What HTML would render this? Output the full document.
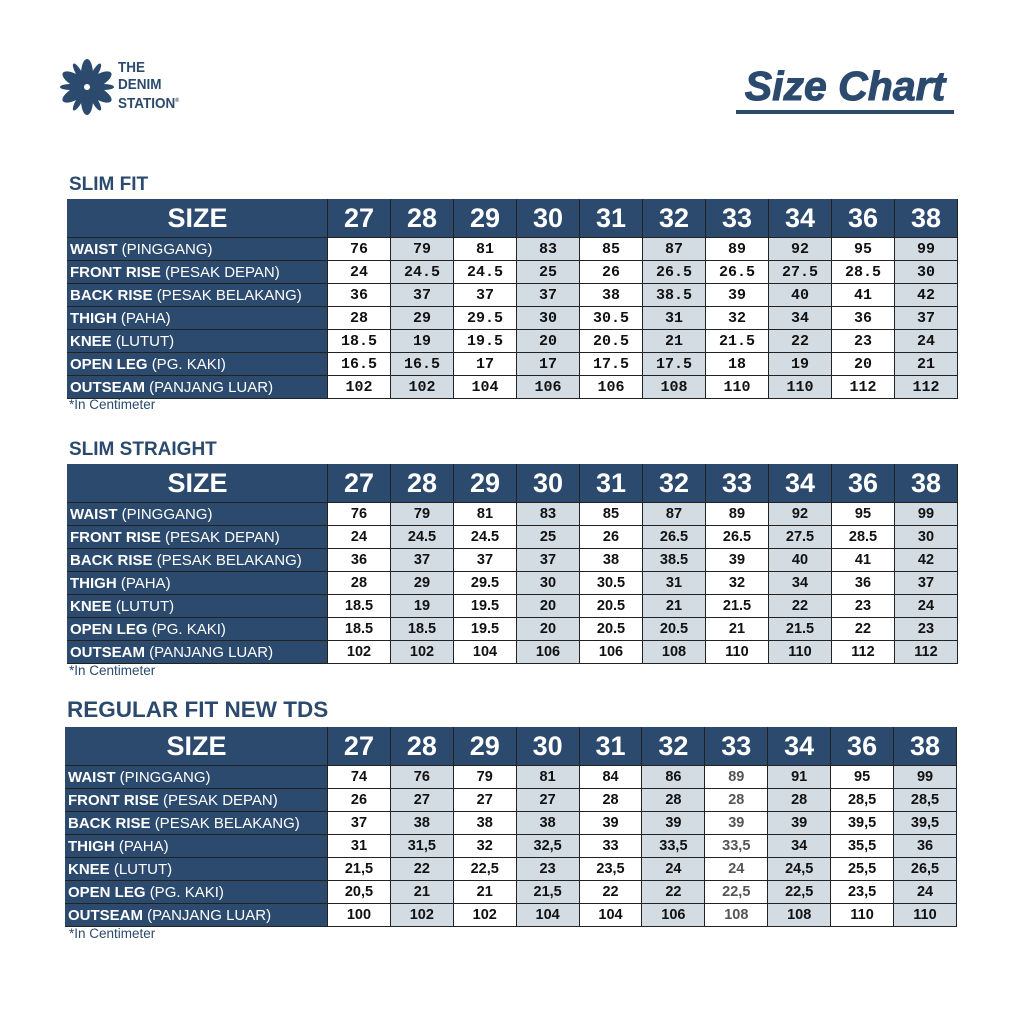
<!DOCTYPE html>
<html><head><meta charset="utf-8"><style>
body{margin:0;width:1024px;height:1024px;background:#fff;position:relative;font-family:"Liberation Sans",Arial,sans-serif;overflow:hidden}
.abs{position:absolute}
table{position:absolute;border-collapse:collapse;table-layout:fixed}
td{border:1px solid #222;padding:0;height:22px;text-align:center;font-weight:bold;font-size:14.5px;color:#111;overflow:hidden;white-space:nowrap}
td:nth-child(odd){background:#d3dbe3}
td:first-child{background:#2b4a6e;color:#fff;text-align:left;padding-left:2px;font-size:15px;border-left-color:#2b4a6e}
td:first-child span{font-weight:normal}
tr.h td{background:#2b4a6e;color:#fff;height:37px;font-size:27px;text-align:center;border-top-color:#2b4a6e}
tr.h td:first-child{font-size:27px;padding-left:0}
.mono td{font-family:"Liberation Mono",monospace;font-size:15px}
.mono td:first-child,.mono tr.h td{font-family:"Liberation Sans",Arial,sans-serif}
.mono tr.h td{font-size:27px}
.mono td:first-child{font-size:15px}
.t3 td:nth-child(8){color:#555}
.t3 tr.h td:nth-child(8){color:#fff}
.title{color:#2b4a6e;font-weight:bold;font-size:19px}
.note{color:#2b4a6e;font-size:13.5px}
</style></head><body>
<svg class="abs" style="left:59px;top:59px" width="56" height="56" viewBox="0 0 56 56">
<g fill="#2b4a6e" transform="translate(28,28)">
<ellipse rx="6" ry="15" cy="-13"/><ellipse rx="6" ry="15" cy="-13" transform="rotate(60)"/><ellipse rx="6" ry="15" cy="-13" transform="rotate(120)"/><ellipse rx="6" ry="15" cy="-13" transform="rotate(180)"/><ellipse rx="6" ry="15" cy="-13" transform="rotate(240)"/><ellipse rx="6" ry="15" cy="-13" transform="rotate(300)"/>
<ellipse rx="3" ry="10" cy="-17" transform="rotate(30)"/><ellipse rx="3" ry="10" cy="-17" transform="rotate(90)"/><ellipse rx="3" ry="10" cy="-17" transform="rotate(150)"/><ellipse rx="3" ry="10" cy="-17" transform="rotate(210)"/><ellipse rx="3" ry="10" cy="-17" transform="rotate(270)"/><ellipse rx="3" ry="10" cy="-17" transform="rotate(330)"/>
<circle r="3" fill="#fff"/></g></svg>
<div class="abs" style="left:118px;top:59px;color:#2b4a6e;font-weight:bold;font-size:15px;line-height:17px;transform:scaleX(0.9);transform-origin:left">THE<br>DENIM<br>STATION<sup style="font-size:6px">®</sup></div>
<div class="abs" style="left:736px;top:62px;color:#2b4a6e;font-weight:bold;font-style:italic;font-size:41px;line-height:48px;border-bottom:4px solid #2b4a6e;width:218px;text-align:center;-webkit-text-stroke:1px #2b4a6e">Size Chart</div>

<div class="abs title" style="left:69px;top:174px">SLIM FIT</div>
<table class="mono" style="left:67px;top:199px;width:891px">
<colgroup><col style="width:260px"><col span="10"></colgroup>
<tr class="h"><td>SIZE</td><td>27</td><td>28</td><td>29</td><td>30</td><td>31</td><td>32</td><td>33</td><td>34</td><td>36</td><td>38</td></tr>
<tr><td>WAIST <span>(PINGGANG)</span></td><td>76</td><td>79</td><td>81</td><td>83</td><td>85</td><td>87</td><td>89</td><td>92</td><td>95</td><td>99</td></tr>
<tr><td>FRONT RISE <span>(PESAK DEPAN)</span></td><td>24</td><td>24.5</td><td>24.5</td><td>25</td><td>26</td><td>26.5</td><td>26.5</td><td>27.5</td><td>28.5</td><td>30</td></tr>
<tr><td>BACK RISE <span>(PESAK BELAKANG)</span></td><td>36</td><td>37</td><td>37</td><td>37</td><td>38</td><td>38.5</td><td>39</td><td>40</td><td>41</td><td>42</td></tr>
<tr><td>THIGH <span>(PAHA)</span></td><td>28</td><td>29</td><td>29.5</td><td>30</td><td>30.5</td><td>31</td><td>32</td><td>34</td><td>36</td><td>37</td></tr>
<tr><td>KNEE <span>(LUTUT)</span></td><td>18.5</td><td>19</td><td>19.5</td><td>20</td><td>20.5</td><td>21</td><td>21.5</td><td>22</td><td>23</td><td>24</td></tr>
<tr><td>OPEN LEG <span>(PG. KAKI)</span></td><td>16.5</td><td>16.5</td><td>17</td><td>17</td><td>17.5</td><td>17.5</td><td>18</td><td>19</td><td>20</td><td>21</td></tr>
<tr><td>OUTSEAM <span>(PANJANG LUAR)</span></td><td>102</td><td>102</td><td>104</td><td>106</td><td>106</td><td>108</td><td>110</td><td>110</td><td>112</td><td>112</td></tr>
</table>
<div class="abs note" style="left:69px;top:397px">*In Centimeter</div>

<div class="abs title" style="left:69px;top:439px">SLIM STRAIGHT</div>
<table style="left:67px;top:464px;width:891px">
<colgroup><col style="width:260px"><col span="10"></colgroup>
<tr class="h"><td>SIZE</td><td>27</td><td>28</td><td>29</td><td>30</td><td>31</td><td>32</td><td>33</td><td>34</td><td>36</td><td>38</td></tr>
<tr><td>WAIST <span>(PINGGANG)</span></td><td>76</td><td>79</td><td>81</td><td>83</td><td>85</td><td>87</td><td>89</td><td>92</td><td>95</td><td>99</td></tr>
<tr><td>FRONT RISE <span>(PESAK DEPAN)</span></td><td>24</td><td>24.5</td><td>24.5</td><td>25</td><td>26</td><td>26.5</td><td>26.5</td><td>27.5</td><td>28.5</td><td>30</td></tr>
<tr><td>BACK RISE <span>(PESAK BELAKANG)</span></td><td>36</td><td>37</td><td>37</td><td>37</td><td>38</td><td>38.5</td><td>39</td><td>40</td><td>41</td><td>42</td></tr>
<tr><td>THIGH <span>(PAHA)</span></td><td>28</td><td>29</td><td>29.5</td><td>30</td><td>30.5</td><td>31</td><td>32</td><td>34</td><td>36</td><td>37</td></tr>
<tr><td>KNEE <span>(LUTUT)</span></td><td>18.5</td><td>19</td><td>19.5</td><td>20</td><td>20.5</td><td>21</td><td>21.5</td><td>22</td><td>23</td><td>24</td></tr>
<tr><td>OPEN LEG <span>(PG. KAKI)</span></td><td>18.5</td><td>18.5</td><td>19.5</td><td>20</td><td>20.5</td><td>20.5</td><td>21</td><td>21.5</td><td>22</td><td>23</td></tr>
<tr><td>OUTSEAM <span>(PANJANG LUAR)</span></td><td>102</td><td>102</td><td>104</td><td>106</td><td>106</td><td>108</td><td>110</td><td>110</td><td>112</td><td>112</td></tr>
</table>
<div class="abs note" style="left:69px;top:663px">*In Centimeter</div>

<div class="abs title" style="left:67px;top:697px;font-size:22.5px">REGULAR FIT NEW TDS</div>
<table class="t3" style="left:65px;top:727px;width:892px">
<colgroup><col style="width:262px"><col span="10"></colgroup>
<tr class="h"><td>SIZE</td><td>27</td><td>28</td><td>29</td><td>30</td><td>31</td><td>32</td><td>33</td><td>34</td><td>36</td><td>38</td></tr>
<tr><td>WAIST <span>(PINGGANG)</span></td><td>74</td><td>76</td><td>79</td><td>81</td><td>84</td><td>86</td><td>89</td><td>91</td><td>95</td><td>99</td></tr>
<tr><td>FRONT RISE <span>(PESAK DEPAN)</span></td><td>26</td><td>27</td><td>27</td><td>27</td><td>28</td><td>28</td><td>28</td><td>28</td><td>28,5</td><td>28,5</td></tr>
<tr><td>BACK RISE <span>(PESAK BELAKANG)</span></td><td>37</td><td>38</td><td>38</td><td>38</td><td>39</td><td>39</td><td>39</td><td>39</td><td>39,5</td><td>39,5</td></tr>
<tr><td>THIGH <span>(PAHA)</span></td><td>31</td><td>31,5</td><td>32</td><td>32,5</td><td>33</td><td>33,5</td><td>33,5</td><td>34</td><td>35,5</td><td>36</td></tr>
<tr><td>KNEE <span>(LUTUT)</span></td><td>21,5</td><td>22</td><td>22,5</td><td>23</td><td>23,5</td><td>24</td><td>24</td><td>24,5</td><td>25,5</td><td>26,5</td></tr>
<tr><td>OPEN LEG <span>(PG. KAKI)</span></td><td>20,5</td><td>21</td><td>21</td><td>21,5</td><td>22</td><td>22</td><td>22,5</td><td>22,5</td><td>23,5</td><td>24</td></tr>
<tr><td>OUTSEAM <span>(PANJANG LUAR)</span></td><td>100</td><td>102</td><td>102</td><td>104</td><td>104</td><td>106</td><td>108</td><td>108</td><td>110</td><td>110</td></tr>
</table>
<div class="abs note" style="left:69px;top:926px">*In Centimeter</div>
</body></html>
